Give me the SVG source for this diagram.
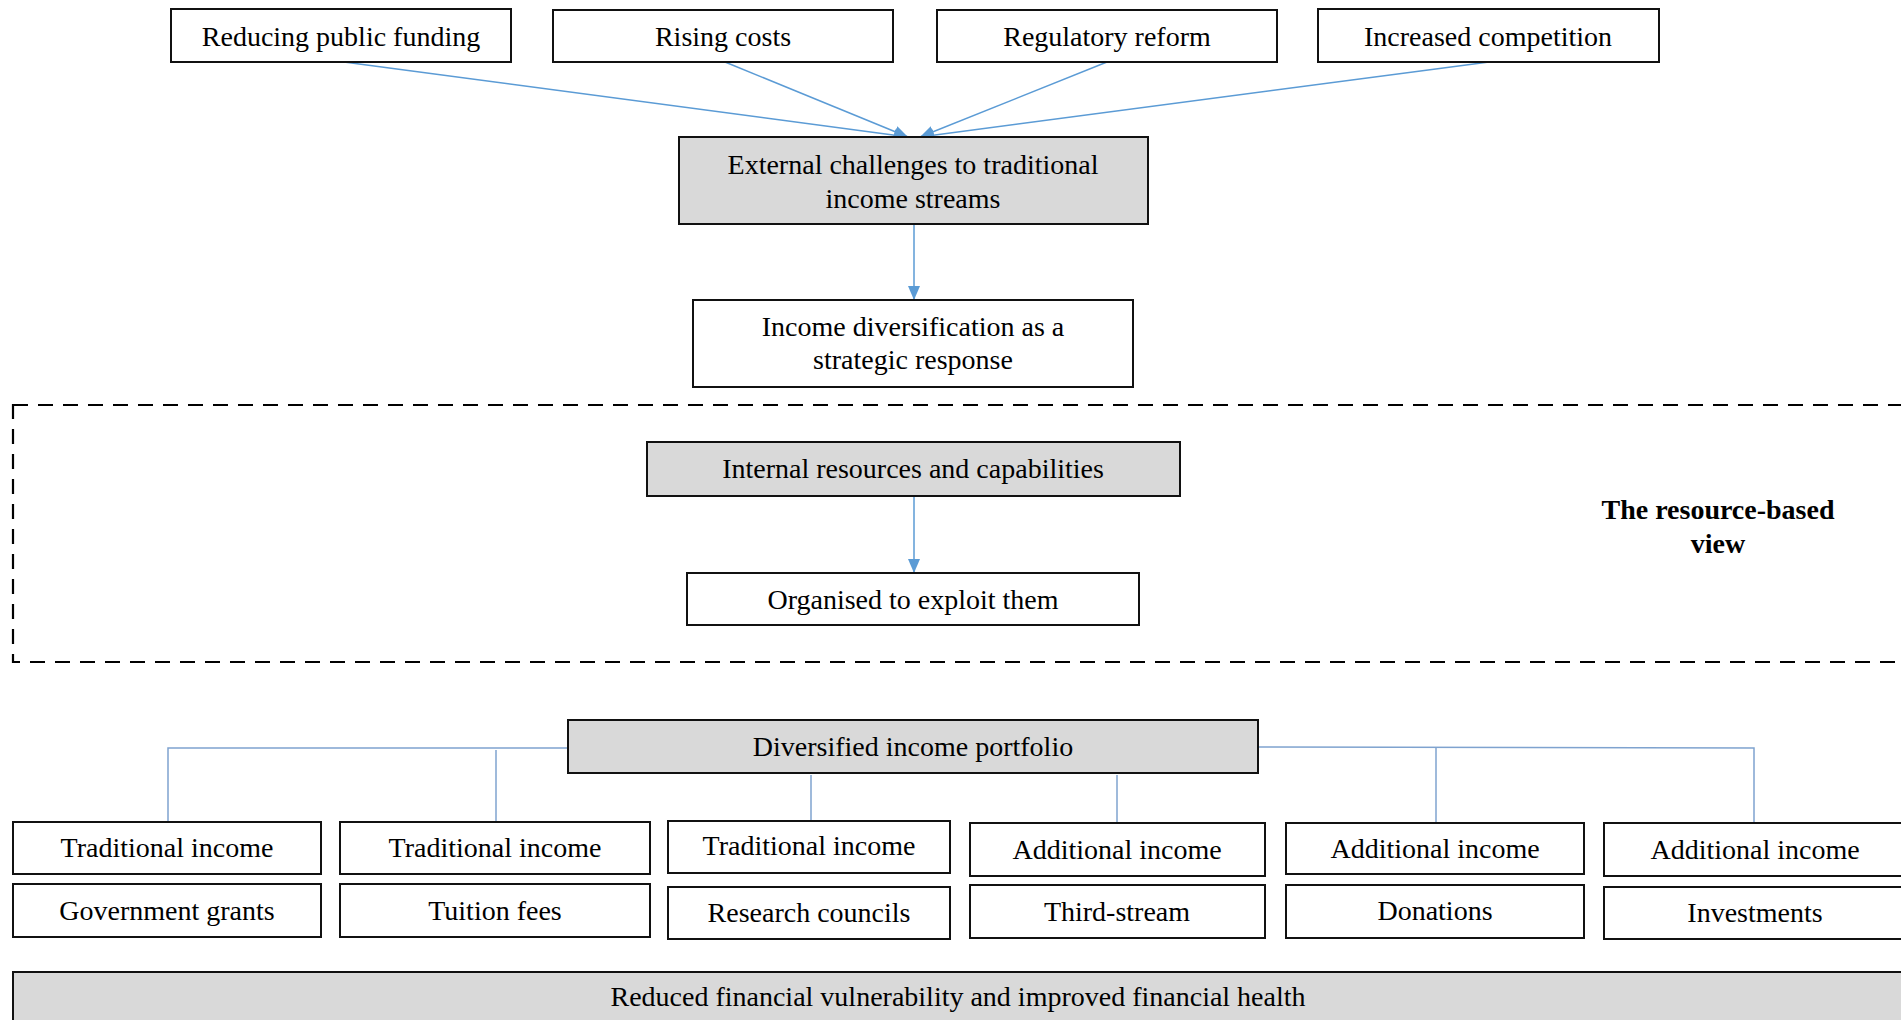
<svg xmlns="http://www.w3.org/2000/svg" width="1901" height="1020" viewBox="0 0 1901 1020">
  <defs>
    <style>
      .box { fill: #ffffff; stroke: #111111; stroke-width: 2; }
      .grey { fill: #d9d9d9; stroke: #111111; stroke-width: 2; }
      .lbl { font-family: "Liberation Serif", "Times New Roman", serif; font-size: 28px; fill: #000000; text-anchor: middle; }
      .bold { font-family: "Liberation Serif", "Times New Roman", serif; font-size: 28px; font-weight: bold; fill: #000000; text-anchor: middle; }
      .arrow { stroke: #5b9bd5; stroke-width: 1.5; fill: none; }
      .tree { stroke: #7fa3cf; stroke-width: 1.5; fill: none; }
      .frame { fill: none; stroke: #000000; stroke-width: 2.2; stroke-dasharray: 15 10; }
    </style>
    <marker id="head" markerWidth="14" markerHeight="12" refX="14" refY="6" orient="auto" markerUnits="userSpaceOnUse">
      <path d="M0,0 L14,6 L0,12 Z" fill="#5b9bd5"/>
    </marker>
  </defs>

  <!-- resource-based view frame -->
  <g id="rbv-frame">
    <rect class="frame" x="13" y="405" width="1900" height="257"/>
    <text class="bold" x="1718" y="519">The resource-based</text>
    <text class="bold" x="1718" y="553">view</text>
  </g>

  <!-- connectors -->
  <g id="connectors">
    <line class="arrow" x1="344" y1="62" x2="908" y2="137" marker-end="url(#head)"/>
    <line class="arrow" x1="725" y1="62" x2="908" y2="137" marker-end="url(#head)"/>
    <line class="arrow" x1="1107" y1="62" x2="920" y2="137" marker-end="url(#head)"/>
    <line class="arrow" x1="1489" y1="62" x2="920" y2="137" marker-end="url(#head)"/>
    <line class="arrow" x1="914" y1="224" x2="914" y2="300" marker-end="url(#head)"/>
    <line class="arrow" x1="914" y1="496" x2="914" y2="573" marker-end="url(#head)"/>

    <polyline class="tree" points="568,748 168,748 168,822"/>
    <line class="tree" x1="496" y1="750" x2="496" y2="822"/>
    <line class="tree" x1="811" y1="775" x2="811" y2="821"/>
    <line class="tree" x1="1117" y1="775" x2="1117" y2="823"/>
    <polyline class="tree" points="1258,747 1754,748 1754,823"/>
    <line class="tree" x1="1436" y1="748" x2="1436" y2="823"/>
  </g>

  <!-- external pressures -->
  <g id="reducing-public-funding">
    <rect class="box" x="171" y="9" width="340" height="53"/>
    <text class="lbl" x="341" y="46">Reducing public funding</text>
  </g>
  <g id="rising-costs">
    <rect class="box" x="553" y="10" width="340" height="52"/>
    <text class="lbl" x="723" y="46">Rising costs</text>
  </g>
  <g id="regulatory-reform">
    <rect class="box" x="937" y="10" width="340" height="52"/>
    <text class="lbl" x="1107" y="46">Regulatory reform</text>
  </g>
  <g id="increased-competition">
    <rect class="box" x="1318" y="9" width="341" height="53"/>
    <text class="lbl" x="1488" y="46">Increased competition</text>
  </g>

  <g id="external-challenges">
    <rect class="grey" x="679" y="137" width="469" height="87"/>
    <text class="lbl" x="913" y="174">External challenges to traditional</text>
    <text class="lbl" x="913" y="208">income streams</text>
  </g>

  <g id="income-diversification">
    <rect class="box" x="693" y="300" width="440" height="87"/>
    <text class="lbl" x="913" y="336">Income diversification as a</text>
    <text class="lbl" x="913" y="369">strategic response</text>
  </g>

  <g id="internal-resources">
    <rect class="grey" x="647" y="442" width="533" height="54"/>
    <text class="lbl" x="913" y="478">Internal resources and capabilities</text>
  </g>

  <g id="organised">
    <rect class="box" x="687" y="573" width="452" height="52"/>
    <text class="lbl" x="913" y="609">Organised to exploit them</text>
  </g>

  <g id="diversified-portfolio">
    <rect class="grey" x="568" y="720" width="690" height="53"/>
    <text class="lbl" x="913" y="756">Diversified income portfolio</text>
  </g>

  <!-- income streams -->
  <g id="government-grants">
    <rect class="box" x="13" y="822" width="308" height="52"/>
    <text class="lbl" x="167" y="857">Traditional income</text>
    <rect class="box" x="13" y="884" width="308" height="53"/>
    <text class="lbl" x="167" y="920">Government grants</text>
  </g>
  <g id="tuition-fees">
    <rect class="box" x="340" y="822" width="310" height="52"/>
    <text class="lbl" x="495" y="857">Traditional income</text>
    <rect class="box" x="340" y="884" width="310" height="53"/>
    <text class="lbl" x="495" y="920">Tuition fees</text>
  </g>
  <g id="research-councils">
    <rect class="box" x="668" y="821" width="282" height="52"/>
    <text class="lbl" x="809" y="855">Traditional income</text>
    <rect class="box" x="668" y="887" width="282" height="52"/>
    <text class="lbl" x="809" y="922">Research councils</text>
  </g>
  <g id="third-stream">
    <rect class="box" x="970" y="823" width="295" height="53"/>
    <text class="lbl" x="1117" y="859">Additional income</text>
    <rect class="box" x="970" y="885" width="295" height="53"/>
    <text class="lbl" x="1117" y="921">Third-stream</text>
  </g>
  <g id="donations">
    <rect class="box" x="1286" y="823" width="298" height="51"/>
    <text class="lbl" x="1435" y="858">Additional income</text>
    <rect class="box" x="1286" y="885" width="298" height="53"/>
    <text class="lbl" x="1435" y="920">Donations</text>
  </g>
  <g id="investments">
    <rect class="box" x="1604" y="823" width="302" height="53"/>
    <text class="lbl" x="1755" y="859">Additional income</text>
    <rect class="box" x="1604" y="887" width="302" height="52"/>
    <text class="lbl" x="1755" y="922">Investments</text>
  </g>

  <g id="financial-health">
    <rect class="grey" x="13" y="972" width="1892" height="60"/>
    <text class="lbl" x="958" y="1006">Reduced financial vulnerability and improved financial health</text>
  </g>
</svg>
